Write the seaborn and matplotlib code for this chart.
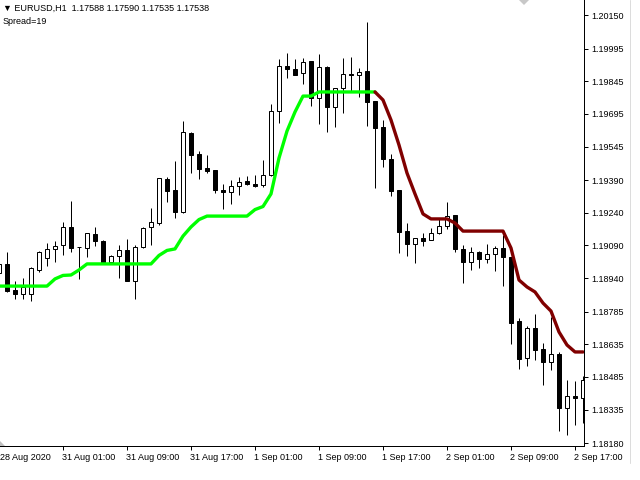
import matplotlib
matplotlib.use("Agg")
import matplotlib.pyplot as plt
import matplotlib.transforms as mtransforms
from matplotlib.lines import Line2D
from matplotlib.patches import Polygon
import numpy as np
import pandas as pd
import seaborn as sns

# ---------------- data ----------------
bars = list(range(74))

opens = [1.18963, 1.19005, 1.18885, 1.18867, 1.18867, 1.18977, 1.19032, 1.19074, 1.19092, 1.19175,
         1.19083, 1.19078, 1.19143, 1.19110, 1.19014, 1.19041, 1.19069, 1.18926, 1.19083, 1.19175,
         1.19193, 1.19396, 1.19345, 1.19244, 1.19607, 1.19511, 1.19446, 1.19437, 1.19345, 1.19336,
         1.19363, 1.19386, 1.19373, 1.19368, 1.19414, 1.19708, 1.19915, 1.19902, 1.19883, 1.19938,
         1.19768, 1.19911, 1.19727, 1.19814, 1.19879, 1.19874, 1.19892, 1.19754, 1.19635, 1.19488,
         1.19345, 1.19156, 1.19097, 1.19124, 1.19115, 1.19147, 1.19179, 1.19230, 1.19074, 1.19014,
         1.19060, 1.19028, 1.19051, 1.19078, 1.19037, 1.18742, 1.18572, 1.18710, 1.18614, 1.18554,
         1.18591, 1.18342, 1.18397, 1.18388]

highs = [1.19032, 1.19060, 1.18926, 1.18940, 1.18991, 1.19064, 1.19101, 1.19110, 1.19198, 1.19294,
         1.19085, 1.19147, 1.19175, 1.19115, 1.19044, 1.19092, 1.19120, 1.19092, 1.19175, 1.19262,
         1.19400, 1.19405, 1.19478, 1.19662, 1.19612, 1.19524, 1.19506, 1.19437, 1.19373, 1.19391,
         1.19405, 1.19409, 1.19414, 1.19483, 1.19741, 1.19948, 1.19975, 1.19948, 1.19952, 1.19938,
         1.19971, 1.19915, 1.19814, 1.19952, 1.19957, 1.19906, 1.20118, 1.19754, 1.19667, 1.19511,
         1.19345, 1.19193, 1.19124, 1.19147, 1.19170, 1.19216, 1.19290, 1.19230, 1.19092, 1.19083,
         1.19064, 1.19097, 1.19087, 1.19138, 1.19037, 1.18756, 1.18719, 1.18775, 1.18641, 1.18761,
         1.18600, 1.18471, 1.18466, 1.18489]

lows = [1.18922, 1.18876, 1.18844, 1.18844, 1.18834, 1.18968, 1.18995, 1.19014, 1.19046, 1.19060,
        1.18936, 1.19037, 1.19087, 1.19005, 1.19009, 1.18940, 1.18926, 1.18844, 1.19078, 1.19092,
        1.19184, 1.19290, 1.19216, 1.19239, 1.19423, 1.19396, 1.19423, 1.19331, 1.19258, 1.19281,
        1.19322, 1.19368, 1.19359, 1.19359, 1.19409, 1.19653, 1.19860, 1.19874, 1.19833, 1.19731,
        1.19649, 1.19612, 1.19635, 1.19699, 1.19796, 1.19773, 1.19639, 1.19354, 1.19451, 1.19317,
        1.19055, 1.19041, 1.19009, 1.19087, 1.19115, 1.19143, 1.19166, 1.19060, 1.18917, 1.18977,
        1.18986, 1.19009, 1.18972, 1.18903, 1.18637, 1.18522, 1.18535, 1.18563, 1.18448, 1.18517,
        1.18236, 1.18218, 1.18264, 1.18273]

closes = [1.19005, 1.18880, 1.18867, 1.18899, 1.18986, 1.19060, 1.19074, 1.19087, 1.19175, 1.19078,
          1.19081, 1.19147, 1.19110, 1.19009, 1.19041, 1.19069, 1.18926, 1.19083, 1.19170, 1.19198,
          1.19400, 1.19340, 1.19244, 1.19612, 1.19506, 1.19442, 1.19432, 1.19345, 1.19336, 1.19363,
          1.19382, 1.19373, 1.19363, 1.19414, 1.19708, 1.19915, 1.19902, 1.19874, 1.19934, 1.19768,
          1.19911, 1.19727, 1.19814, 1.19879, 1.19876, 1.19888, 1.19750, 1.19630, 1.19488, 1.19340,
          1.19152, 1.19097, 1.19124, 1.19110, 1.19147, 1.19179, 1.19225, 1.19074, 1.19014, 1.19060,
          1.19028, 1.19051, 1.19078, 1.19037, 1.18733, 1.18568, 1.18710, 1.18609, 1.18554, 1.18591,
          1.18342, 1.18397, 1.18388, 1.18471]

trend = [1.18903, 1.18903, 1.18903, 1.18903, 1.18903, 1.18903, 1.18903, 1.18936, 1.18952, 1.18954,
         1.18977, 1.19005, 1.19005, 1.19005, 1.19005, 1.19005, 1.19005, 1.19005, 1.19005, 1.19005,
         1.19044, 1.19067, 1.19074, 1.19133, 1.19175, 1.19209, 1.19225, 1.19225, 1.19225, 1.19225,
         1.19225, 1.19225, 1.19255, 1.19269, 1.19327, 1.19492, 1.19616, 1.19704, 1.19777, 1.19777,
         1.19796, 1.19796, 1.19796, 1.19796, 1.19796, 1.19796, 1.19796, 1.19796, 1.19759, 1.19667,
         1.19552, 1.19423, 1.19327, 1.19235, 1.19212, 1.19212, 1.19212, 1.19193, 1.19156, 1.19156,
         1.19156, 1.19156, 1.19156, 1.19156, 1.19078, 1.18931, 1.18899, 1.18876, 1.18825, 1.18788,
         1.18692, 1.18632, 1.18600, 1.18600]

up_last_bar = 47  # trend line is green up to this bar, maroon after

price_ticks = [1.20150, 1.19995, 1.19845, 1.19695, 1.19545, 1.19390, 1.19240,
               1.19090, 1.18940, 1.18785, 1.18635, 1.18485, 1.18335, 1.18180]
price_labels = ["1.20150", "1.19995", "1.19845", "1.19695", "1.19545", "1.19390", "1.19240",
                "1.19090", "1.18940", "1.18785", "1.18635", "1.18485", "1.18335", "1.18180"]

time_ticks = [0, 8, 16, 24, 32, 40, 48, 56, 64, 72]
time_labels = ["28 Aug 2020", "31 Aug 01:00", "31 Aug 09:00", "31 Aug 17:00", "1 Sep 01:00",
               "1 Sep 09:00", "1 Sep 17:00", "2 Sep 01:00", "2 Sep 09:00", "2 Sep 17:00"]

header = "\u25bc EURUSD,H1  1.17588 1.17590 1.17535 1.17538"
spread_text = "Spread=19"

# ---------------- drawing ----------------
sns.set_style("white")
plt.rcParams["font.family"] = ["Liberation Sans", "DejaVu Sans"]
FS = 6.5

fig = plt.figure(figsize=(6.4, 4.8), dpi=100)
fig.patch.set_facecolor("white")
ax = fig.add_axes([0.0, 34 / 480, 584 / 640, 446 / 480])
ax.set_facecolor("white")

df = pd.DataFrame({"bar": bars, "open": opens, "high": highs, "low": lows,
                   "close": closes, "trend": trend})

px = 1 * 72 / 100  # one pixel in points

# wicks
ax.vlines(df["bar"], df["low"], df["high"], color="black", linewidth=px, zorder=2)

# bodies
body_bottom = np.minimum(df["open"], df["close"])
body_height = np.abs(df["close"] - df["open"])
faces = ["white" if c >= o else "black" for o, c in zip(df["open"], df["close"])]
ax.bar(df["bar"], body_height, bottom=body_bottom, width=0.56, color=faces,
       edgecolor="black", linewidth=px, zorder=3)

# trend line
up = df[df["bar"] <= up_last_bar]
dn = df[df["bar"] >= up_last_bar]
sns.lineplot(data=up, x="bar", y="trend", color="#00ff00", linewidth=2.4,
             estimator=None, sort=True, ax=ax, zorder=5)
sns.lineplot(data=dn, x="bar", y="trend", color="#800000", linewidth=2.4,
             estimator=None, sort=True, ax=ax, zorder=5)

ax.set_xlim(0.125, 73.125)
ax.set_ylim(1.181674, 1.20219)
ax.set_xlabel("")
ax.set_ylabel("")

for s in ["top", "left"]:
    ax.spines[s].set_visible(False)
for s in ["right", "bottom"]:
    ax.spines[s].set_visible(True)
    ax.spines[s].set_color("black")
    ax.spines[s].set_linewidth(px)

ax.yaxis.tick_right()
ax.set_yticks(price_ticks)
ax.set_yticklabels(price_labels, fontsize=FS)
ax.tick_params(axis="y", direction="out", length=3, width=px, pad=2.2,
               colors="black", right=True, left=False)

ax.set_xticks(time_ticks[1:])
ax.set_xticklabels([])
ax.tick_params(axis="x", direction="out", length=3, width=px, bottom=True, colors="black")

base = mtransforms.blended_transform_factory(ax.transData, ax.transAxes)
for i, (t, lab) in enumerate(zip(time_ticks, time_labels)):
    dx = 1 if i == 0 else -1
    tr = mtransforms.offset_copy(base, fig=fig, x=dx, y=-11, units="dots")
    ax.text(t, 0, lab, transform=tr, ha="left", va="center", fontsize=FS,
            color="black", clip_on=False)

fig.text(3 / 640, 1 - 8 / 480, header, fontsize=FS, ha="left", va="center", color="black")
fig.text(3 / 640, 1 - 21 / 480, spread_text, fontsize=FS, ha="left", va="center", color="black")

# window decorations
fig.add_artist(Line2D([630 / 640, 630 / 640], [1 - 463 / 480, 1.0], color="#dcdcdc",
                      linewidth=px, transform=fig.transFigure))
fig.add_artist(Polygon([[519 / 640, 1.0], [529 / 640, 1.0], [524 / 640, 1 - 5 / 480]],
                       closed=True, facecolor="#c8c8c8", edgecolor="none",
                       transform=fig.transFigure))
fig.add_artist(Polygon([[0, 1 - 441 / 480], [0, 1 - 446 / 480], [5 / 640, 1 - 446 / 480]],
                       closed=True, facecolor="#c0c0c0", edgecolor="none",
                       transform=fig.transFigure))

fig.savefig("out.png", dpi=100, facecolor="white")
